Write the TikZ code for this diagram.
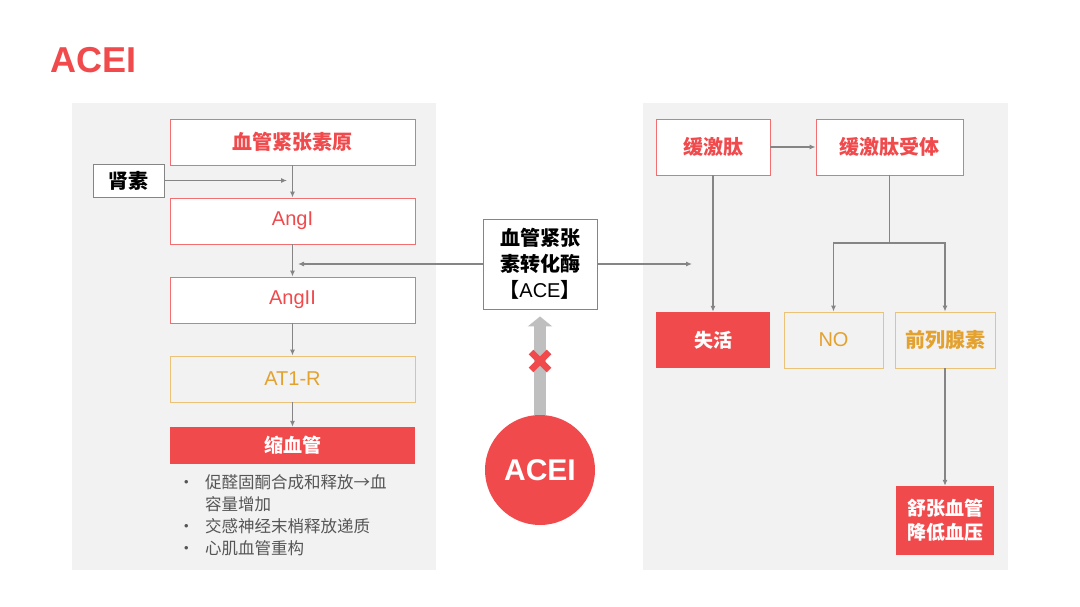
\documentclass[tikz,border=0pt]{standalone}
\usepackage{fontspec}
\setmainfont{Liberation Sans}
\newfontfamily\cjk{Noto Sans CJK SC}
\usepackage{tikz}
\usetikzlibrary{arrows.meta,positioning,calc}
\definecolor{acered}{HTML}{F04A4D}
\definecolor{aceorange}{HTML}{E3A12F}
\definecolor{aceoline}{HTML}{EBC377}
\definecolor{acepanel}{HTML}{F2F2F2}
\definecolor{acegray}{HTML}{858585}
\definecolor{acetext}{HTML}{555555}

\begin{document}
\begin{tikzpicture}[x=1pt,y=-1pt,
    redbox/.style  = {rectangle,draw=acered!80,fill=white,line width=0.9pt,text=acered,
                      align=center,inner sep=0pt,font=\fontsize{20}{24}\selectfont},
    orbox/.style   = {rectangle,draw=aceoline,line width=0.9pt,text=aceorange,
                      align=center,inner sep=0pt,font=\fontsize{20}{24}\selectfont},
    fillbox/.style = {rectangle,fill=acered,text=white,align=center,inner sep=0pt,
                      font=\fontsize{19}{24}\selectfont\cjk\bfseries},
    graybox/.style = {rectangle,draw=acegray,fill=white,line width=0.9pt,text=black,
                      align=center,inner sep=0pt,font=\fontsize{20}{24}\selectfont\cjk\bfseries},
    fl/.style      = {-{Latex[length=6pt,width=5pt]},acegray,line width=1.1pt},
    blt/.style     = {anchor=base west,inner sep=0pt,text=acetext,
                      font=\fontsize{16.5}{20}\selectfont\cjk},
  ]
  \useasboundingbox (0,0) rectangle (1080,607);
  \fill[white] (0,0) rectangle (1080,607);

  % Hintergrundfelder
  \fill[acepanel] (72,103) rectangle (436,570);
  \fill[acepanel] (643,103) rectangle (1008,570);

  \node[anchor=west,inner sep=0pt,text=acered,font=\fontsize{36}{40}\selectfont\bfseries]
       (title) at (50,60) {ACEI};

  % RAS-Kaskade
  \node[redbox,minimum width=245pt,minimum height=46pt,font=\fontsize{20}{24}\selectfont\cjk\bfseries]
       (agtn) at (292.5,142) {血管紧张素原};
  \node[graybox,minimum width=71pt,minimum height=33pt] (renin) at (128.5,180.5) {肾素};
  \node[redbox,minimum width=245pt,minimum height=46pt] (ang1) at (292.5,221) {AngI};
  \node[redbox,minimum width=245pt,minimum height=46pt] (ang2) at (292.5,300) {AngII};
  \node[orbox,minimum width=245pt,minimum height=46pt]  (at1r) at (292.5,379) {AT1-R};
  \node[fillbox,minimum width=245pt,minimum height=37pt] (vaso) at (292.5,445.5) {缩血管};

  \node[blt] (d1)  at (178,488) {\textbullet};
  \node[blt] (b1)  at (205,488) {促醛固酮合成和释放→血};
  \node[blt] (b1b) at (205,510) {容量增加};
  \node[blt] (d2)  at (178,532) {\textbullet};
  \node[blt] (b2)  at (205,532) {交感神经末梢释放递质};
  \node[blt] (d3)  at (178,554) {\textbullet};
  \node[blt] (b3)  at (205,554) {心肌血管重构};

  \coordinate (rin) at (287,180.5);
  \coordinate (aceL) at (298,264);
  \coordinate (aceR) at (692,264);

  \draw[fl] (agtn) -- (ang1);
  \draw[fl] (renin.east) -- (rin);
  \draw[fl] (ang1) -- (ang2);
  \draw[fl] (ang2) -- (at1r);
  \draw[fl] (at1r) -- (vaso);

  % ACE und Hemmer
  \node[graybox,minimum width=114pt,minimum height=90pt,font=\fontsize{20}{26}\selectfont\cjk\bfseries]
       (ace) at (540,264) {血管紧张\\素转化酶\\【{\normalfont\fontsize{20}{26}\selectfont ACE}】};
  \node[circle,fill=acered,minimum size=110pt,inner sep=0pt,text=white,
        font=\fontsize{30}{32}\selectfont\bfseries] (acei) at (540,470) {ACEI};

  \draw[fl] (ace.west) -- (aceL);
  \draw[fl] (ace.east) -- (aceR);

  \draw[line width=12pt,black!25,-{Triangle[length=10pt,width=24pt]}]
       (acei.north) -- ($(ace.south)+(0,7)$);
  \coordinate (xm) at (540,361);
  \draw[acered,line width=6.5pt] ($(xm)+(-9,-9)$) -- ($(xm)+(9,9)$)
                                 ($(xm)+(-9,9)$) -- ($(xm)+(9,-9)$);

  % Kinin-Seite
  \node[redbox,minimum width=114pt,minimum height=56pt,font=\fontsize{20}{24}\selectfont\cjk\bfseries]
       (brad) at (713,147) {缓激肽};
  \node[redbox,minimum width=147pt,minimum height=56pt,font=\fontsize{20}{24}\selectfont\cjk\bfseries]
       (bradr) at (889.5,147) {缓激肽受体};
  \node[fillbox,minimum width=114pt,minimum height=56pt] (inact) at (713,340) {失活};
  \node[orbox,minimum width=99pt,minimum height=56pt] (no) at (833.5,340) {NO};
  \node[orbox,minimum width=100pt,minimum height=56pt,font=\fontsize{20}{24}\selectfont\cjk\bfseries]
       (pg) at (945,340) {前列腺素};
  \node[fillbox,minimum width=98pt,minimum height=69pt,font=\fontsize{19}{24}\selectfont\cjk\bfseries]
       (relax) at (945,520.5) {舒张血管\\降低血压};

  \coordinate (split) at (889.5,243);

  \draw[fl] (brad) -- (bradr);
  \draw[fl] (brad) -- (inact);
  \draw[acegray,line width=1.1pt] (bradr.south) -- (split);
  \draw[fl] (split) -| (no.north);
  \draw[fl] (split) -| (pg.north);
  \draw[fl] (pg) -- (relax);

\end{tikzpicture}
\end{document}
